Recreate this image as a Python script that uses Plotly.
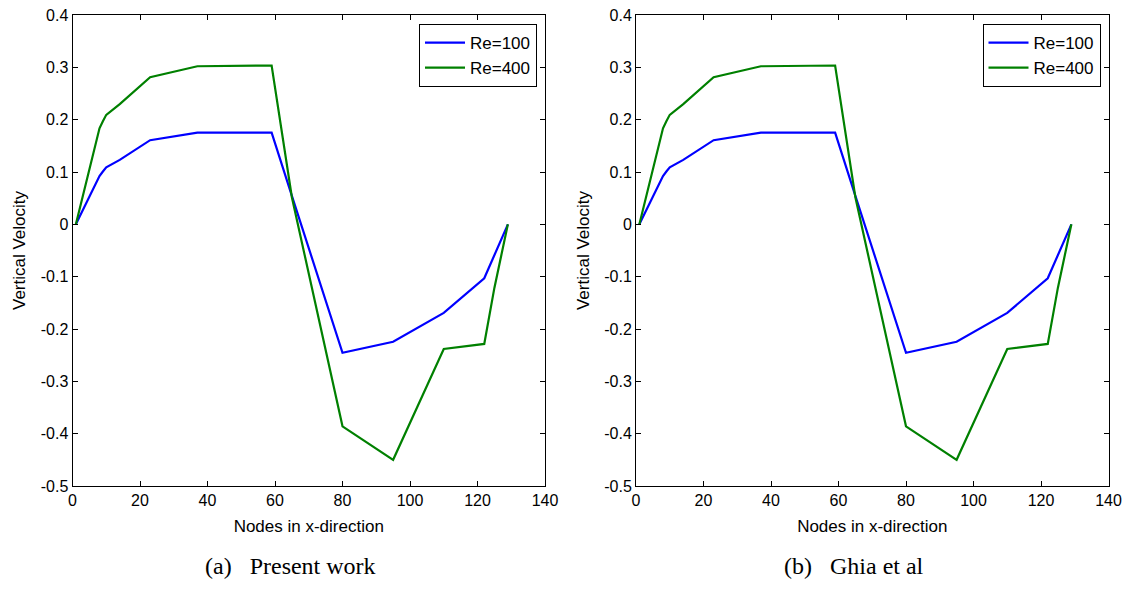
import plotly.graph_objects as go

# Vertical velocity along the horizontal centreline of the cavity
nodes = [1, 8, 9, 10, 14, 23, 37, 59, 65, 80, 95, 110, 122, 123, 124, 125, 129]
v_re100 = [0.0, 0.09233, 0.10091, 0.10890, 0.12317, 0.16077, 0.17507, 0.17527,
           0.05454, -0.24533, -0.22445, -0.16914, -0.10313, -0.08864, -0.07391,
           -0.05906, 0.0]
v_re400 = [0.0, 0.18360, 0.19713, 0.20920, 0.22965, 0.28124, 0.30203, 0.30353,
           0.05186, -0.38598, -0.44993, -0.23827, -0.22847, -0.19254, -0.15663,
           -0.12146, 0.0]

series_names = ["Re=100", "Re=400"]
series_colors = ["#0000FF", "#008000"]
panel_captions = ["(a)\u00a0\u00a0 Present work", "(b)\u00a0\u00a0 Ghia et al"]

x_ticks = [0, 20, 40, 60, 80, 100, 120, 140]
y_ticks = [-0.5, -0.4, -0.3, -0.2, -0.1, 0, 0.1, 0.2, 0.3, 0.4]
y_ticktext = ["-0.5", "-0.4", "-0.3", "-0.2", "-0.1", "0", "0.1", "0.2", "0.3", "0.4"]

W, H = 1132, 594
ML, MR, MT, MB = 72, 23, 15, 108
PW, PH = W - ML - MR, H - MT - MB
panels = [(72.5, 545.0), (636.0, 1108.5)]  # pixel extents of each axes box


def px_x(px):
    return (px - ML) / PW


def px_y(py):
    return 1 - (py - MT) / PH


fig = go.Figure()
sans = "Liberation Sans, Arial, sans-serif"
serif = "Liberation Serif, Times New Roman, serif"

for i, (x0, x1) in enumerate(panels):
    xa = "x" if i == 0 else f"x{i + 1}"
    ya = "y" if i == 0 else f"y{i + 1}"
    lg = "legend" if i == 0 else f"legend{i + 1}"
    for vals, name, col in zip([v_re100, v_re400], series_names, series_colors):
        fig.add_trace(go.Scatter(
            x=nodes, y=vals, mode="lines", name=name,
            line=dict(color=col, width=2.2),
            xaxis=xa, yaxis=ya, legend=lg, showlegend=True,
        ))

    axis_common = dict(
        showgrid=False, zeroline=False, showline=True, linecolor="black",
        linewidth=1, mirror="ticks", ticks="inside", ticklen=5,
        tickcolor="black", tickwidth=1, automargin=False,
        tickfont=dict(family=sans, size=16, color="black"),
    )
    xkey = "xaxis" if i == 0 else f"xaxis{i + 1}"
    ykey = "yaxis" if i == 0 else f"yaxis{i + 1}"
    fig.layout[xkey] = dict(
        axis_common,
        domain=[max(0, px_x(x0)), min(1, px_x(x1))], anchor=ya, range=[0, 140],
        tickvals=x_ticks, ticktext=[str(t) for t in x_ticks],
        title=dict(text="Nodes in x-direction", standoff=11,
                   font=dict(family=sans, size=17, color="black")),
    )
    fig.layout[ykey] = dict(
        axis_common,
        domain=[0, 1], anchor=xa, range=[-0.5, 0.4],
        tickvals=y_ticks, ticktext=y_ticktext,
        title=dict(text="Vertical Velocity", standoff=10,
                   font=dict(family=sans, size=17, color="black")),
    )
    fig.layout[lg] = dict(
        x=px_x(x0 + 464.5), y=px_y(24), xanchor="right", yanchor="top",
        xref="paper", yref="paper",
        bgcolor="white", bordercolor="black", borderwidth=1,
        font=dict(family=sans, size=17, color="black"),
        tracegroupgap=0, itemwidth=40,
    )
    fig.add_annotation(
        x=px_x((x0 + x1) / 2 - 18), y=px_y(566), xref="paper", yref="paper",
        text=panel_captions[i], showarrow=False, xanchor="center", yanchor="middle",
        font=dict(family=serif, size=24, color="black"),
    )

fig.update_layout(
    width=W, height=H, margin=dict(l=ML, r=MR, t=MT, b=MB),
    paper_bgcolor="white", plot_bgcolor="white", template="none",
)

fig.write_html("out.html")
